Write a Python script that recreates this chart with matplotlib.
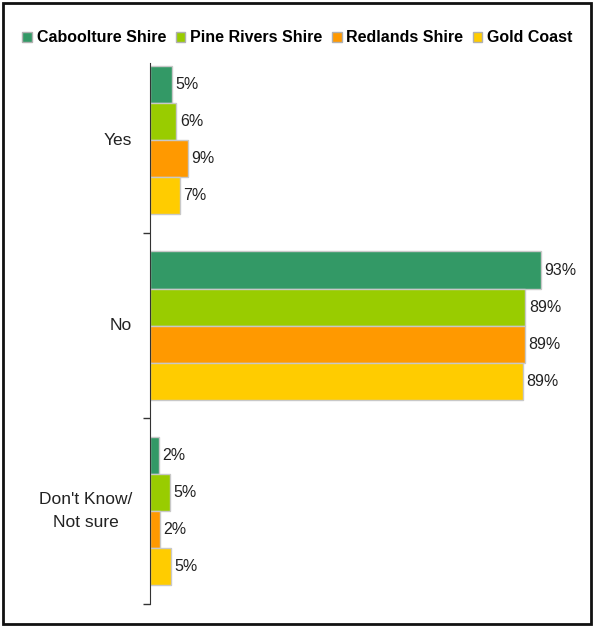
import matplotlib
matplotlib.use("Agg")
import matplotlib.pyplot as plt
import numpy as np
from matplotlib.patches import Rectangle

plt.rcParams["font.family"] = ["Liberation Sans", "DejaVu Sans"]

categories = ["Yes", "No", "Don't Know/\nNot sure"]
series_names = ["Caboolture Shire", "Pine Rivers Shire", "Redlands Shire", "Gold Coast"]
caboolture = [5.2, 93.1, 2.1]
pine_rivers = [6.3, 89.4, 4.8]
redlands = [9.0, 89.3, 2.3]
gold_coast = [7.1, 88.8, 5.0]
colors = ["#339966", "#99CC00", "#FF9900", "#FFCC00"]

series = [caboolture, pine_rivers, redlands, gold_coast]

W, H = 595, 627
fig = plt.figure(figsize=(W / 100, H / 100), dpi=100)
ax = fig.add_axes([150 / W, 1 - 604 / H, 420 / W, (604 - 63) / H])

n = len(series)
bar_h = 0.8 / n
y_base = np.arange(len(categories))
for i, (name, vals, col) in enumerate(zip(series_names, series, colors)):
    ypos = y_base - 0.4 + bar_h * (i + 0.5)
    ax.barh(ypos, vals, height=bar_h, color=col, edgecolor="#C8C8C8",
            linewidth=1, label=name)
    for y, v in zip(ypos, vals):
        ax.text(v + 0.8, y, f"{v:.0f}%", va="center", ha="left",
                fontsize=11.5, color="#222222")

ax.set_xlim(0, 100)
ax.set_ylim(2.5, -0.416)
ax.set_xticks([])
ax.set_yticks([0.5, 1.5, 2.5])
ax.set_yticklabels([])
ax.tick_params(axis="y", direction="out", length=5, width=1, color="#333333")
for y, lab in zip(y_base, categories):
    ax.text(-4.2, y, lab, ha="right", va="center", multialignment="center",
            fontsize=12.5, color="#222222", linespacing=1.7)

for side in ["top", "right", "bottom"]:
    ax.spines[side].set_visible(False)
ax.spines["left"].set_color("#333333")

handles = [Rectangle((0, 0), 1, 1, facecolor=c, edgecolor="#B0B0B0") for c in colors]
fig.legend(handles, series_names, loc="center", bbox_to_anchor=(0.5, 1 - 38 / H),
           ncol=4, frameon=False, handlelength=0.6, handleheight=0.6,
           handletextpad=0.3, columnspacing=0.6,
           prop={"weight": "bold", "size": 11.5})

fig.patches.append(Rectangle((3 / W, 3 / H), (591 - 3) / W, (624 - 3) / H,
                             transform=fig.transFigure, fill=False,
                             edgecolor="#111111", linewidth=2))

fig.savefig("out.png", dpi=100)
